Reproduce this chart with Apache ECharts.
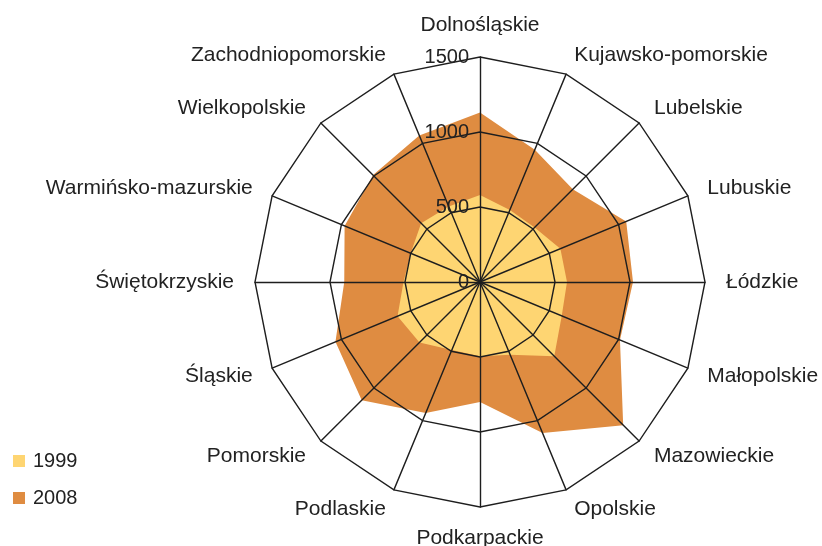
<!DOCTYPE html>
<html>
<head>
<meta charset="utf-8">
<script src="https://cdn.jsdelivr.net/npm/echarts@6/dist/echarts.min.js"></script>
<style>
  html, body { margin: 0; padding: 0; background: #fff; }
  #main { width: 822px; height: 546px; }
</style>
</head>
<body>
<div id="main"></div>
<script>
// województwa, clockwise from the top
const regions = [
  'Dolnośląskie', 'Kujawsko-pomorskie', 'Lubelskie', 'Lubuskie',
  'Łódzkie', 'Małopolskie', 'Mazowieckie', 'Opolskie',
  'Podkarpackie', 'Podlaskie', 'Pomorskie', 'Śląskie',
  'Świętokrzyskie', 'Warmińsko-mazurskie', 'Wielkopolskie', 'Zachodniopomorskie'
]
const values1999 = [580, 520, 515, 580, 580, 590, 700, 525, 495, 490, 570, 595, 510, 500, 555, 545]
const values2008 = [1130, 955, 875, 1055, 1020, 1010, 1350, 1090, 800, 945, 1115, 1043, 905, 977, 1008, 1058]
const seriesNames = ['1999', '2008']
const axisMax = 1500

// echarts lays radar axes out counter-clockwise, so walk the list backwards after the first one
const order = [0]
for (let i = regions.length - 1; i > 0; i--) order.push(i)

const fontFamily = "'Liberation Sans', Arial, sans-serif"
const lineColor = '#1e1e1e'

const indicator = order.map((idx, k) => {
  const item = { name: regions[idx], min: 0, max: axisMax }
  if (k === 0) {
    // only the top axis carries the scale
    item.axisLabel = {
      show: true,
      fontSize: 20,
      color: '#222',
      fontFamily: fontFamily,
      margin: 11,
      formatter: v => String(v)
    }
  }
  return item
})

const option = {
  animation: false,
  color: ['#FED572', '#DF8C41'],
  legend: {
    data: seriesNames,
    orient: 'vertical',
    left: 8,
    top: 446,
    itemWidth: 12,
    itemHeight: 12,
    itemGap: 17,
    icon: 'rect',
    textStyle: {
      fontSize: 20,
      color: '#222',
      fontFamily: fontFamily,
      padding: [0, 0, 0, 3]
    }
  },
  radar: {
    z: 3,
    center: [480, 282],
    radius: 225,
    shape: 'polygon',
    splitNumber: 3,
    nameGap: 21,
    indicator: indicator,
    axisName: {
      color: '#222',
      fontSize: 21,
      fontFamily: fontFamily
    },
    axisLine: { lineStyle: { color: lineColor, width: 1.4 } },
    splitLine: { lineStyle: { color: lineColor, width: 1.4 } },
    splitArea: { show: false },
    axisLabel: { show: false }
  },
  series: [
    {
      type: 'radar',
      z: 2,
      symbol: 'none',
      lineStyle: { width: 0 },
      // 2008 first so the smaller 1999 area sits on top of it
      data: [
        {
          name: '2008',
          value: order.map(i => values2008[i]),
          itemStyle: { color: '#DF8C41' },
          areaStyle: { color: '#DF8C41', opacity: 1 }
        },
        {
          name: '1999',
          value: order.map(i => values1999[i]),
          itemStyle: { color: '#FED572' },
          areaStyle: { color: '#FED572', opacity: 1 }
        }
      ]
    }
  ]
}

const myChart = echarts.init(document.getElementById('main'))
myChart.setOption(option)
</script>
</body>
</html>
